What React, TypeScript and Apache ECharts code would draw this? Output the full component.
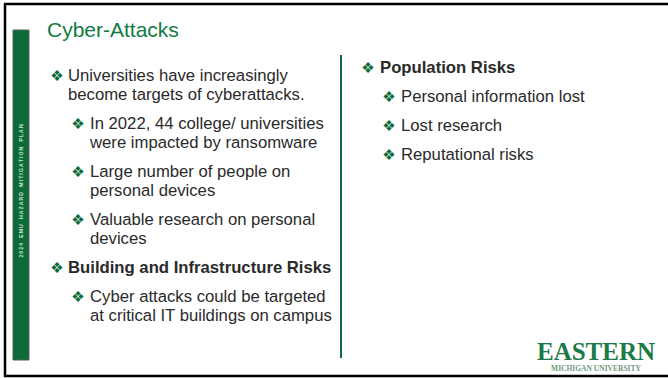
import React, { useEffect, useRef } from "react";
import * as echarts from "echarts";

const title = "Cyber-Attacks";
const sideLabel = "2024 EMU HAZARD MITIGATION PLAN";
const logoMain = "EASTERN";
const logoSub = "MICHIGAN UNIVERSITY";

type Item = { level: number; bold: boolean; lines: string[] };

const leftItems: Item[] = [
  { level: 0, bold: false, lines: ["Universities have increasingly", "become targets of cyberattacks."] },
  { level: 1, bold: false, lines: ["In 2022, 44 college/ universities", "were impacted by ransomware"] },
  { level: 1, bold: false, lines: ["Large number of people on", "personal devices"] },
  { level: 1, bold: false, lines: ["Valuable research on personal", "devices"] },
  { level: 0, bold: true, lines: ["Building and Infrastructure Risks"] },
  { level: 1, bold: false, lines: ["Cyber attacks could be targeted", "at critical IT buildings on campus"] },
];

const rightItems: Item[] = [
  { level: 0, bold: true, lines: ["Population Risks"] },
  { level: 1, bold: false, lines: ["Personal information lost"] },
  { level: 1, bold: false, lines: ["Lost research"] },
  { level: 1, bold: false, lines: ["Reputational risks"] },
];

const GREEN = "#0b6b3a";
const TITLE_GREEN = "#137a42";
const TEXT = "#2a2a2a";
const FONT = "'Liberation Sans', Arial, sans-serif";

function spaced(s: string) {
  return s
    .split(" ")
    .map((w) => w.split("").join("\u2009"))
    .join("\u2002\u2002");
}

function layoutColumn(items: Item[], startY: number, bulletX: number[], textX: number[]) {
  const els: any[] = [];
  let y = startY;
  const lh = 19;
  const gap = 10;
  items.forEach((it, idx) => {
    if (idx > 0) y += gap;
    els.push({
      type: "text",
      x: bulletX[it.level],
      y: y + 0.5,
      style: {
        text: "\u2756",
        fill: GREEN,
        font: "15px 'DejaVu Sans'",
        textAlign: "center",
        textVerticalAlign: "middle",
      },
    });
    it.lines.forEach((ln, i) => {
      els.push({
        type: "text",
        x: textX[it.level],
        y: y,
        style: {
          text: ln,
          fill: TEXT,
          font: `${it.bold ? "bold " : ""}16.7px ${FONT}`,
          textAlign: "left",
          textVerticalAlign: "middle",
        },
      });
      if (i < it.lines.length - 1) y += lh;
    });
    y += lh;
  });
  return els;
}

export default function App() {
  const ref = useRef<HTMLDivElement>(null);
  useEffect(() => {
    if (!ref.current) return;
    const chart = echarts.init(ref.current, null, { renderer: "svg", width: 668, height: 378 });
    const elements: any[] = [
      { type: "rect", shape: { x: 0, y: 0, width: 668, height: 378 }, style: { fill: "#ffffff" } },
      // frame
      { type: "line", shape: { x1: 4, y1: 4, x2: 668, y2: 4 }, style: { stroke: "#000", lineWidth: 2.5 } },
      { type: "line", shape: { x1: 5, y1: 3, x2: 5, y2: 377 }, style: { stroke: "#000", lineWidth: 2.5 } },
      { type: "line", shape: { x1: 4, y1: 376, x2: 668, y2: 376 }, style: { stroke: "#000", lineWidth: 2.5 } },
      // side bar
      {
        type: "rect",
        shape: { x: 13, y: 30, width: 16, height: 330 },
        style: { fill: GREEN, stroke: "#5a5a5a", lineWidth: 1 },
      },
      {
        type: "text",
        x: 21,
        y: 191,
        rotation: Math.PI / 2,
        style: {
          text: spaced(sideLabel),
          fill: "#d8e6dc",
          font: `bold 5.2px ${FONT}`,
          textAlign: "center",
          textVerticalAlign: "middle",
        },
      },
      // title
      {
        type: "text",
        x: 47,
        y: 29,
        style: {
          text: title,
          fill: TITLE_GREEN,
          font: `21px ${FONT}`,
          textAlign: "left",
          textVerticalAlign: "middle",
        },
      },
      // divider
      { type: "line", shape: { x1: 341, y1: 55, x2: 341, y2: 358 }, style: { stroke: GREEN, lineWidth: 2 } },
      ...layoutColumn(leftItems, 75, [57, 78], [68, 90]),
      ...layoutColumn(rightItems, 67, [368, 389], [380, 401]),
      // logo
      {
        type: "text",
        x: 596,
        y: 351,
        style: {
          text: logoMain,
          fill: "#1b7a46",
          font: "bold 25px 'Liberation Serif', serif",
          textAlign: "center",
          textVerticalAlign: "middle",
        },
      },
      {
        type: "text",
        x: 596,
        y: 368.5,
        style: {
          text: logoSub,
          fill: "#6f9a80",
          font: "bold 7.5px 'Liberation Serif', serif",
          textAlign: "center",
          textVerticalAlign: "middle",
        },
      },
    ];
    chart.setOption({ animation: false, graphic: { elements } });
    return () => chart.dispose();
  }, []);
  return (
    <div
      ref={ref}
      style={{ position: "fixed", left: 0, top: 0, width: 668, height: 378, background: "#fff" }}
    />
  );
}
